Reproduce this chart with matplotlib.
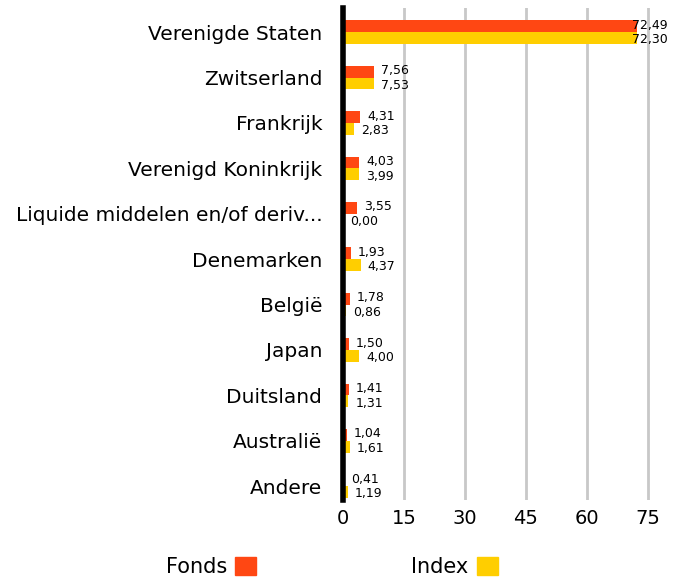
import numpy as np
import matplotlib.pyplot as plt
from matplotlib.patches import Patch

categories = ['Verenigde Staten', 'Zwitserland', 'Frankrijk', 'Verenigd Koninkrijk',
              'Liquide middelen en/of deriv...', 'Denemarken', 'België', 'Japan',
              'Duitsland', 'Australië', 'Andere']
fonds = [72.49, 7.56, 4.31, 4.03, 3.55, 1.93, 1.78, 1.50, 1.41, 1.04, 0.41]
index = [72.30, 7.53, 2.83, 3.99, 0.00, 4.37, 0.86, 4.00, 1.31, 1.61, 1.19]
ticks = [0, 15, 30, 45, 60, 75]

RED = '#FF4713'
YELLOW = '#FFCE00'

plt.rcParams['font.family'] = ['DejaVu Sans']

fig = plt.figure(figsize=(6.85, 5.81), dpi=100)
ax = fig.add_axes([0.5007, 0.139, 0.4743, 0.847])

y = np.arange(len(categories))
h = 0.26
ax.barh(y - h / 2, fonds, height=h, color=RED, zorder=3)
ax.barh(y + h / 2, index, height=h, color=YELLOW, zorder=3)

xmax = 80
ax.set_xlim(0, xmax)
ax.set_ylim(10.31, -0.53)


def fmt(v):
    return f"{v:.2f}".replace('.', ',')


for yy, f, i in zip(y, fonds, index):
    for val, off in ((f, -h / 2 - 0.02), (i, h / 2 + 0.04)):
        if val > 65:
            ax.text(xmax, yy + off, fmt(val), ha='right', va='center',
                    fontsize=9, zorder=4)
        else:
            ax.annotate(fmt(val), (val, yy + off), xytext=(5, 0),
                        textcoords='offset points', ha='left', va='center',
                        fontsize=9, zorder=4)

ax.set_yticks(y)
ax.set_yticklabels(categories, fontsize=14.5)
ax.set_xticks(ticks)
ax.set_xticklabels([str(t) for t in ticks], fontsize=14)
ax.tick_params(length=0)
ax.tick_params(axis='y', pad=15)
ax.tick_params(axis='x', pad=6)

for s in ['top', 'right', 'bottom']:
    ax.spines[s].set_visible(False)
ax.spines['left'].set_linewidth(4)
ax.spines['left'].set_color('black')
ax.spines['left'].set_zorder(5)

ax.grid(axis='x', color='#c8c8c8', linewidth=2, zorder=0)
ax.set_axisbelow(True)

handles = [Patch(color=RED), Patch(color=YELLOW)]
fig.legend(handles, ['Fonds', 'Index'], ncol=2, frameon=False,
           markerfirst=False, handlelength=1.0, handleheight=1.0,
           handletextpad=0.4, columnspacing=7.45, fontsize=15,
           loc='center', bbox_to_anchor=(0.484, 0.024))

fig.savefig('out.png', dpi=100)
